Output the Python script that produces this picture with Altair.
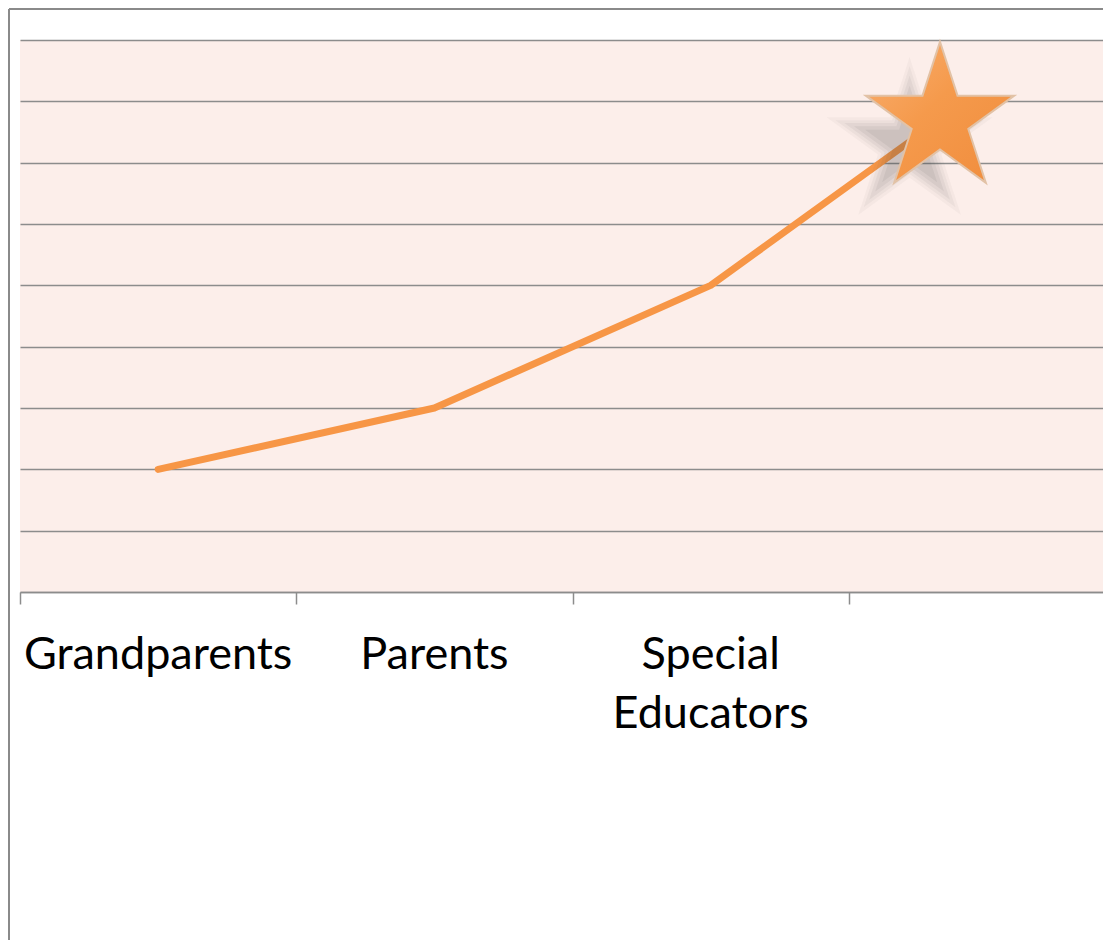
import altair as alt
import pandas as pd

# ---- data ----
categories = ["Grandparents", "Parents", "Special Educators"]
values = [2, 3, 5]
label_lines = [["Grandparents"], ["Parents"], ["Special", "Educators"]]
star_position = [3.33]   # position along the category axis (in category units)
star_value = [7.7]

W, H = 1083, 552

line_df = pd.DataFrame({
    "pos": [i + 0.5 for i in range(len(categories))] + star_position,
    "value": values + star_value,
})
label_df = pd.DataFrame({
    "pos": [i + 0.5 for i in range(len(categories))],
    "lines": label_lines,
})
star_df = pd.DataFrame({"pos": star_position, "value": star_value})
one = pd.DataFrame({"k": [0]})

STAR = ("M0,-1L0.2245,-0.309L0.951,-0.309L0.363,0.118L0.588,0.809L0,0.382"
        "L-0.588,0.809L-0.363,0.118L-0.951,-0.309L-0.2245,-0.309Z")

xs = alt.Scale(domain=[0, 3.92], nice=False, zero=False)
ys = alt.Scale(domain=[0, 9], nice=False)

grid_color = "#8c8c8c"

line = alt.Chart(line_df).mark_line(
    color="#F79646", strokeWidth=7, strokeCap="round", strokeJoin="round"
).encode(
    x=alt.X("pos:Q", scale=xs, axis=alt.Axis(
        values=[0, 1, 2, 3], labels=False, title=None, grid=False,
        tickSize=12, tickColor=grid_color, tickWidth=1.5,
        domainColor=grid_color, domainWidth=1.5)),
    y=alt.Y("value:Q", scale=ys, axis=alt.Axis(
        values=list(range(10)), labels=False, ticks=False, domain=False,
        title=None, grid=True, gridColor=grid_color, gridWidth=1.5)),
)

shadow_layers = []
for mult, op in [(1.12, 0.04), (1.0, 0.05), (0.88, 0.06), (0.75, 0.07), (0.6, 0.08)]:
    shadow_layers.append(
        alt.Chart(star_df).transform_calculate(
            sx="datum.pos - 0.11", sy="datum.value - 0.4"
        ).mark_point(shape=STAR, filled=True, color="#4a4a4a", opacity=op,
                     size=24336 * mult * mult, strokeWidth=0).encode(
            x=alt.X("sx:Q", scale=xs), y=alt.Y("sy:Q", scale=ys))
    )

star = alt.Chart(star_df).mark_point(
    shape=STAR, filled=True, size=24336, opacity=1,
    fill=alt.Gradient(gradient="linear", x1=0, y1=0, x2=1, y2=1,
                      stops=[alt.GradientStop(offset=0, color="#F9B072"),
                             alt.GradientStop(offset=0.45, color="#F59A4C"),
                             alt.GradientStop(offset=1, color="#F08C3C")]),
    stroke="#E2C2A6", strokeWidth=2,
).encode(x=alt.X("pos:Q", scale=xs), y=alt.Y("value:Q", scale=ys))

labels = alt.Chart(label_df).mark_text(
    font="Lato", fontSize=45, color="#000000", align="center",
    baseline="alphabetic", lineHeight=59,
).encode(x=alt.X("pos:Q", scale=xs), y=alt.value(H + 77), text="lines")

frame_left = alt.Chart(one).mark_rule(color="#8a8a8a", strokeWidth=2).encode(
    x=alt.value(-11), y=alt.value(-31), y2=alt.value(H + 348))
frame_top = alt.Chart(one).mark_rule(color="#8a8a8a", strokeWidth=2).encode(
    y=alt.value(-31), x=alt.value(-11), x2=alt.value(W))

chart = alt.layer(
    line, *shadow_layers, star, labels, frame_left, frame_top
).properties(
    width=W, height=H,
    autosize=alt.AutoSizeParams(type="none"),
    padding={"left": 12, "top": 32, "right": 0, "bottom": 348},
    background="#ffffff",
).configure_view(fill="#FCEEEA", stroke=None)

chart.save("out.html", embed_options={"renderer": "svg", "actions": False})
